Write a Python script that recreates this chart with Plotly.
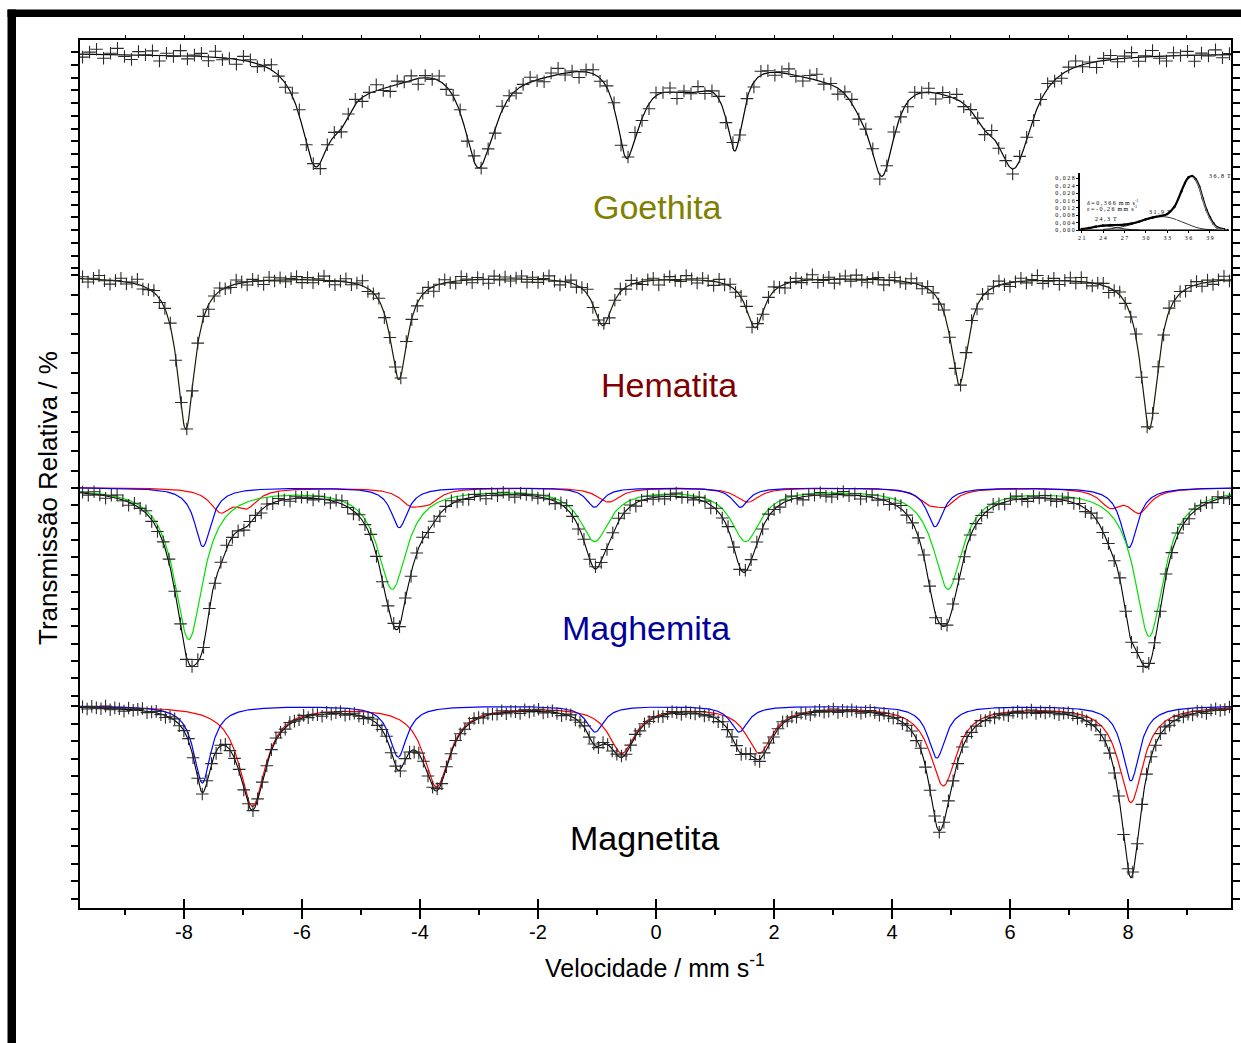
import numpy as np
import plotly.graph_objects as go

# ---------------------------------------------------------------
# DATA
# velocities in mm/s, absorption depths in plot units
# ---------------------------------------------------------------
# Goethita: three sub-spectra of the hyperfine-field distribution
goe_main_pos = [-5.78, -3.02, -0.51, 1.34, 3.83, 6.07]
goe_main_depth = [100, 100, 82, 84, 106, 105]
goe_main_hwhm = [0.30, 0.30, 0.20, 0.17, 0.27, 0.38]
goe_b_pos = [-5.35, -2.75, -0.30, 1.15, 3.45, 5.55]
goe_b_depth = [30, 12, 22, 8, 14, 22]
goe_b_hwhm = [0.25, 0.25, 0.25, 0.25, 0.25, 0.25]
goe_c_pos = [-4.7, -2.1, 0.05, 0.62, 2.8, 5.0]
goe_c_depth = [22, 14, 14, 22, 16, 22]
goe_c_sigma = [0.6, 0.7, 0.4, 0.35, 0.7, 0.6]
goe_resid = [-3, 2, 5, -4, 1, 6, -2, -5, 3, 0, 4, -6, 2, -1, 5, -3, 1, 3, -4, 6,
             -2, 0, -5, 4, 2, -3, 1, 5, -1, -4, 3, 6, -2, 1, -6, 2, 4]

# Hematita: one sextet
hem_pos = [-7.97, -4.36, -0.90, 1.68, 5.14, 8.36]
hem_depth = [152, 102, 48, 50, 107, 152]
hem_hwhm = [0.18, 0.18, 0.19, 0.19, 0.18, 0.18]
hem_resid = [2, -3, 1, 4, -1, -4, 0, 3, -2, 1, 5, -3, -1, 2, -4, 0, 3, -2, 4, -1,
             -3, 1, 2, -5, 0, 3, -1, -2, 4, 1, -3, 2, 0, -4, 3, -1, 2, -2, 1, 3, -3]

# Maghemita: green (main), blue, red (two weak sextets)
mgh_green_pos = [-7.92, -4.47, -1.04, 1.52, 4.95, 8.36]
mgh_green_depth = [151, 100, 52, 52, 100, 148]
mgh_green_hwhm = [0.30, 0.30, 0.30, 0.30, 0.30, 0.30]
mgh_blue_pos = [-7.68, -4.35, -1.04, 1.43, 4.73, 8.02]
mgh_blue_depth = [59, 40, 19.5, 19.5, 39, 60]
mgh_blue_hwhm = [0.17, 0.17, 0.17, 0.17, 0.17, 0.17]
mgh_red1_pos = [-7.38, -4.15, -0.85, 1.60, 4.90, 8.19]
mgh_red1_depth = [22, 15, 8, 8, 15, 23]
mgh_red2_pos = [-6.94, -3.85, -0.75, 1.50, 4.62, 7.70]
mgh_red2_depth = [17, 12, 7, 7, 12, 17]
mgh_red_hwhm = [0.22, 0.22, 0.22, 0.22, 0.22, 0.22]
mgh_resid = [1, -2, 3, 0, -3, 2, 4, -1, -4, 2, 0, 3, -2, -3, 1, 4, -1, 2, -4, 0,
             3, -2, 1, -3, 2, 4, -1, 0, -2, 3, 1, -4, 2, -1, 3, 0, -3, 2, 1]

# Magnetita: blue (site A) and red (site B)
mag_blue_pos = [-7.69, -4.37, -1.03, 1.41, 4.76, 8.05]
mag_blue_depth = [77, 51, 26, 26, 52, 75]
mag_blue_hwhm = [0.18, 0.18, 0.18, 0.18, 0.18, 0.18]
mag_red_pos = [-6.84, -3.72, -0.58, 1.75, 4.87, 8.05]
mag_red_depth = [100, 80, 46, 46, 79, 96]
mag_red_hwhm = [0.27, 0.27, 0.27, 0.27, 0.27, 0.25]
mag_resid = [1, -2, 2, 0, -1, 3, -2, 1, 0, -3, 2, -1, 1, 3, -2, 0, 2, -1, -3, 1,
             2, -2, 0, 3, -1, 1, -2, 2, 0, -3, 1, 2, -1, 0, 3, -2, 1, -1, 2, 0, -2, 1, 3]

# Inset: hyperfine field distribution of goethite
ins_B = [21, 22, 23, 24, 25, 26, 27, 28, 29, 30, 31, 32, 33, 34, 35, 35.5, 36, 36.5,
         37, 37.5, 38, 38.5, 39, 39.5, 40, 41]
ins_total = [.0005, .0011, .0018, .0024, .0027, .0027, .0029, .0035, .0045, .0058,
             .0068, .0076, .0086, .0125, .0210, .0255, .0285, .0292, .0275, .0235,
             .0170, .0110, .0068, .0035, .0015, .0004]
ins_c1_B = [33, 34, 35, 35.5, 36, 36.5, 37, 37.5, 38, 38.5, 39, 40, 41]
ins_c1_P = [0, .0030, .0130, .0200, .0265, .0285, .0270, .0230, .0165, .0105, .0060, .0012, .0002]
ins_c2_B = [24, 26, 28, 30, 31, 32, 33, 34, 35, 36, 37, 38, 39, 40]
ins_c2_P = [.0003, .0012, .0030, .0055, .0066, .0072, .0070, .0060, .0045, .0030, .0015, .0006, .0002, 0]
ins_c3_B = [21, 22, 23, 24, 25, 26, 27, 28, 29]
ins_c3_P = [.0005, .0010, .0017, .0021, .0019, .0012, .0006, .0002, 0]
ins_xticks = [21, 24, 27, 30, 33, 36, 39]
ins_yticks = [0, .004, .008, .012, .016, .020, .024, .028]

x_ticks = [-8, -6, -4, -2, 0, 2, 4, 6, 8]
x_minor = [-9, -7, -5, -3, -1, 1, 3, 5, 7, 9]

# ---------------------------------------------------------------
# layout constants (page pixels; body margin removed by post_script)
# ---------------------------------------------------------------
W, H = 1241, 1043
PL, PR, PT, PB = 80, 1231, 40, 908          # plot area on the page
ML, MT, MR, MB = PL, PT, W - PR, H - PB
PW, PH = PR - PL, PB - PT
V_MIN, V_MAX = -9.763, 9.746
FONT = "Liberation Sans, Arial, sans-serif"

base_goe, base_hem, base_mgh, base_mag = 53, 277, 487.5, 705.7


def px_x(px):
    return (px - PL) / PW


def px_y(py):
    return (PB - py) / PH


def lor(v, pos, depth, w):
    out = np.zeros_like(v)
    for p, d, g in zip(pos, depth, w):
        out += d / (1 + ((v - p) / g) ** 2)
    return out


def gau(v, pos, depth, s):
    out = np.zeros_like(v)
    for p, d, g in zip(pos, depth, s):
        out += d * np.exp(-((v - p) ** 2) / (2 * g * g))
    return out


vf = np.linspace(V_MIN, V_MAX, 1600)

fig = go.Figure()


def line(v, y, color, width=1.2):
    fig.add_trace(go.Scatter(x=v, y=y, mode="lines", line=dict(color=color, width=width),
                             showlegend=False, hoverinfo="skip"))


def points(v, y):
    fig.add_trace(go.Scatter(x=v, y=y, mode="markers",
                             marker=dict(symbol="cross-thin", size=9,
                                         line=dict(width=1.1, color="#2a2a2a")),
                             showlegend=False, hoverinfo="skip"))


def resid(n, lst, scale):
    return np.array([lst[i % len(lst)] for i in range(n)], dtype=float) * scale


# Goethita
def goe_model(v):
    return (lor(v, goe_main_pos, goe_main_depth, goe_main_hwhm)
            + lor(v, goe_b_pos, goe_b_depth, goe_b_hwhm)
            + gau(v, goe_c_pos, goe_c_depth, goe_c_sigma))


vc = np.linspace(-9.72, 9.72, 165)
line(vf, -(base_goe + goe_model(vf)), "black", 1.2)
points(vc, -(base_goe + goe_model(vc)) + resid(len(vc), goe_resid, 1.0))

# Hematita
vc = np.linspace(-9.72, 9.72, 210)
line(vf, -(base_hem + lor(vf, hem_pos, hem_depth, hem_hwhm)), "#1a1a00", 1.2)
points(vc, -(base_hem + lor(vc, hem_pos, hem_depth, hem_hwhm)) + resid(len(vc), hem_resid, 1.0))


# Maghemita
def mgh_parts(v):
    g = lor(v, mgh_green_pos, mgh_green_depth, mgh_green_hwhm)
    b = lor(v, mgh_blue_pos, mgh_blue_depth, mgh_blue_hwhm)
    r = lor(v, mgh_red1_pos, mgh_red1_depth, mgh_red_hwhm) + lor(v, mgh_red2_pos, mgh_red2_depth, mgh_red_hwhm)
    return g, b, r


g, b, r = mgh_parts(vf)
line(vf, -(base_mgh + r), "#ff0000", 1.2)
line(vf, -(base_mgh + b), "#0000ff", 1.2)
line(vf, -(base_mgh + g), "#00e000", 1.2)
line(vf, -(base_mgh + g + b + r), "black", 1.1)
vc = np.linspace(-9.72, 9.72, 200)
g, b, r = mgh_parts(vc)
points(vc, -(base_mgh + g + b + r) + resid(len(vc), mgh_resid, 0.8))

# Magnetita
bl = lor(vf, mag_blue_pos, mag_blue_depth, mag_blue_hwhm)
rd = lor(vf, mag_red_pos, mag_red_depth, mag_red_hwhm)
line(vf, -(base_mag + rd), "#ff0000", 1.2)
line(vf, -(base_mag + bl), "#0000ff", 1.2)
line(vf, -(base_mag + bl + rd), "black", 1.1)
vc = np.linspace(-9.72, 9.72, 250)
bl = lor(vc, mag_blue_pos, mag_blue_depth, mag_blue_hwhm)
rd = lor(vc, mag_red_pos, mag_red_depth, mag_red_hwhm)
points(vc, -(base_mag + bl + rd) + resid(len(vc), mag_resid, 0.7))

# dummy traces for the decorative overlay axes
fig.add_trace(go.Scatter(x=[0], y=[-500], xaxis="x2", mode="markers", marker=dict(opacity=0),
                         showlegend=False, hoverinfo="skip"))
fig.add_trace(go.Scatter(x=[0], y=[-500], xaxis="x3", mode="markers", marker=dict(opacity=0),
                         showlegend=False, hoverinfo="skip"))

# Inset
ix, iy = "x4", "y4"
fig.add_trace(go.Scatter(x=[20.9, 41.5], y=[0.0001, 0.0001], xaxis=ix, yaxis=iy, mode="lines+markers",
                         line=dict(color="black", width=0.8), marker=dict(size=2, color="black"),
                         showlegend=False, hoverinfo="skip"))
fig.add_trace(go.Scatter(x=ins_c3_B, y=ins_c3_P, xaxis=ix, yaxis=iy, mode="lines",
                         line=dict(color="black", width=0.8, shape="spline"), showlegend=False, hoverinfo="skip"))
fig.add_trace(go.Scatter(x=ins_c2_B, y=ins_c2_P, xaxis=ix, yaxis=iy, mode="lines",
                         line=dict(color="black", width=0.8, shape="spline"), showlegend=False, hoverinfo="skip"))
fig.add_trace(go.Scatter(x=ins_B, y=ins_total, xaxis=ix, yaxis=iy, mode="lines+markers",
                         line=dict(color="black", width=2.2, shape="spline"),
                         marker=dict(size=2.5, color="black"), showlegend=False, hoverinfo="skip"))
fig.add_trace(go.Scatter(x=ins_c1_B, y=ins_c1_P, xaxis=ix, yaxis=iy, mode="lines",
                         line=dict(color="white", width=0.6, shape="spline"), showlegend=False, hoverinfo="skip"))

ann = []
ifont = dict(family="Liberation Serif, serif", size=6, color="black")
for txt, bx, py in [("3 6 , 8  T", 38.6, 0.0290), ("3 1 , 9  T", 30.2, 0.0100),
                    ("2 4 , 3  T", 22.6, 0.0060),
                    ("δ = 0 , 3 6 6  m m  s<sup>-1</sup>", 21.4, 0.0150),
                    ("ε = - 0 , 2 6  m m  s<sup>-1</sup>", 21.4, 0.0118)]:
    ann.append(dict(x=bx, y=py, xref=ix, yref=iy, text=txt, showarrow=False,
                    xanchor="left", yanchor="middle", font=ifont))
ann.append(dict(x=31.2, y=-0.0075, xref=ix, yref=iy, text="C a m p o   H i p e r f i n o / t e s l a",
                showarrow=False, xanchor="center", yanchor="middle", font=ifont))
ann.append(dict(x=16.3, y=0.0335, xref=ix, yref=iy, text="P r o b a b i l i d a d e ,  P",
                showarrow=False, textangle=-90, font=ifont, xanchor="center", yanchor="top"))

# Spectrum names
for txt, px, py, col in [("Goethita", 657, 207, "#808000"), ("Hematita", 669, 385, "#800000"),
                         ("Maghemita", 646, 628, "#00009c"), ("Magnetita", 644, 838, "black")]:
    ann.append(dict(x=(px - 656) / 59.0, y=-py, xref="x", yref="y", text=txt, showarrow=False,
                    xanchor="center", yanchor="middle",
                    font=dict(family=FONT, size=34, color=col)))

# Axis titles
ann.append(dict(x=px_x(655), y=px_y(966), xref="paper", yref="paper",
                text="Velocidade / mm s<sup>-1</sup>", showarrow=False,
                xanchor="center", yanchor="middle",
                font=dict(family=FONT, size=25, color="black")))
ann.append(dict(x=px_x(48), y=px_y(498), xref="paper", yref="paper",
                text="Transmissão Relativa / %", showarrow=False, textangle=-90,
                xanchor="center", yanchor="middle",
                font=dict(family=FONT, size=26, color="black")))

# left/right axis ticks (one set per stacked spectrum)
ytv = np.concatenate([np.arange(52.3, 270, 12.7), np.arange(275, 480, 19.6),
                      np.arange(488, 700, 17.3), np.arange(706, 906, 17.5)])

shapes = [
    dict(type="rect", xref="paper", yref="paper", x0=px_x(7.5), x1=px_x(1260), y0=px_y(17), y1=px_y(9.5),
         fillcolor="black", line=dict(width=0), layer="above"),
    dict(type="rect", xref="paper", yref="paper", x0=px_x(7.5), x1=px_x(16), y0=px_y(1070), y1=px_y(9.5),
         fillcolor="black", line=dict(width=0), layer="above"),
]

fig.update_layout(
    width=W, height=H, autosize=False, margin=dict(l=ML, r=MR, t=MT, b=MB, autoexpand=False),
    paper_bgcolor="white", plot_bgcolor="white", showlegend=False,
    font=dict(family=FONT, color="black"),
    annotations=ann, shapes=shapes,
    xaxis=dict(range=[V_MIN, V_MAX], tickvals=x_ticks, ticktext=[str(t) for t in x_ticks],
               ticks="outside", ticklen=9, tickwidth=1.5, tickcolor="black", ticklabelstandoff=-4,
               minor=dict(tickvals=x_minor, ticks="outside", ticklen=5, tickwidth=1.5, tickcolor="black"),
               showline=True, linewidth=2, linecolor="black", showgrid=False, zeroline=False,
               automargin=False, tickfont=dict(family=FONT, size=20, color="black")),
    xaxis2=dict(range=[V_MIN, V_MAX], overlaying="x", side="top", anchor="y",
                tickvals=x_ticks + x_minor, ticks="outside", ticklen=3, tickwidth=1, tickcolor="black",
                showticklabels=False, showline=True, linewidth=1.5, linecolor="black",
                showgrid=False, zeroline=False, automargin=False),
    xaxis3=dict(range=[V_MIN, V_MAX], overlaying="x", side="bottom", anchor="y",
                tickvals=x_ticks, ticks="inside", ticklen=9, tickwidth=1.5, tickcolor="black",
                showticklabels=False, showline=False, showgrid=False, zeroline=False, automargin=False),
    yaxis=dict(range=[-908, -40], tickvals=list(-ytv), ticks="outside", ticklen=7, tickwidth=1.5,
               tickcolor="black", showticklabels=False, showline=True, linewidth=2, linecolor="black",
               mirror="ticks", showgrid=False, zeroline=False, automargin=False),
    xaxis4=dict(domain=[px_x(1080), px_x(1229)], anchor="y4", range=[20.76, 41.68],
                tickvals=ins_xticks, ticktext=[" ".join(str(t)) for t in ins_xticks],
                ticks="outside", ticklen=2, tickwidth=0.8, tickcolor="black",
                showline=True, linewidth=1, linecolor="black", showgrid=False, zeroline=False,
                automargin=False, tickfont=ifont),
    yaxis4=dict(domain=[px_y(230), px_y(172.7)], anchor="x4", range=[0, 0.03103],
                tickvals=ins_yticks, ticktext=[" ".join(f"{t:.3f}".replace(".", ",")) for t in ins_yticks],
                ticks="outside", ticklen=2, tickwidth=0.8, tickcolor="black",
                showline=True, linewidth=2, linecolor="black", showgrid=False, zeroline=False,
                automargin=False, tickfont=ifont),
)

fig.write_html("out.html", config={"displayModeBar": False},
               post_script="document.body.style.margin='0px';document.body.style.overflow='hidden';")
